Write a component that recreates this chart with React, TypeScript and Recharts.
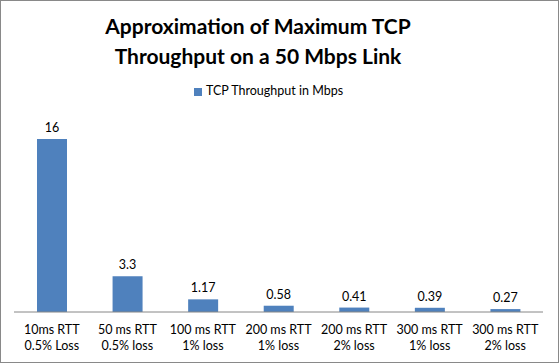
import { Bar, BarChart, XAxis, YAxis, Legend, LabelList } from "recharts";

const rttLabels = ["10ms RTT", "50 ms RTT", "100 ms RTT", "200 ms RTT", "200 ms RTT", "300 ms RTT", "300 ms RTT"];
const lossLabels = ["0.5% Loss", "0.5% loss", "1% loss", "1% loss", "2% loss", "1% loss", "2% loss"];
const throughput = [16, 3.3, 1.17, 0.58, 0.41, 0.39, 0.27];

const data = rttLabels.map((rtt, i) => ({
  name: i,
  rtt,
  loss: lossLabels[i],
  "TCP Throughput in Mbps": throughput[i],
}));

const font = "Lato, 'Liberation Sans', sans-serif";

const TwoLineTick = (props: any) => {
  const { x, y, payload } = props;
  const d = data[payload.value];
  return (
    <text x={x} y={y} textAnchor="middle" fontSize={12.5} fill="#000" fontFamily={font}>
      <tspan x={x} dy={14}>{d.rtt}</tspan>
      <tspan x={x} dy={16}>{d.loss}</tspan>
    </text>
  );
};

const App = () => {
  return (
    <div
      style={{
        position: "fixed",
        top: 0,
        left: 0,
        width: 559,
        height: 363,
        background: "#fff",
        fontFamily: font,
      }}
    >
      <div
        style={{
          position: "absolute",
          top: 0,
          left: 0,
          width: 557,
          height: 361,
          border: "1px solid #898989",
          pointerEvents: "none",
          zIndex: 2,
        }}
      />
      <div
        style={{
          position: "absolute",
          top: 11,
          left: 0,
          width: 516,
          textAlign: "center",
          fontSize: 21,
          fontWeight: 700,
          lineHeight: "30px",
          color: "#000",
        }}
      >
        Approximation of Maximum TCP
        <br />
        Throughput on a 50 Mbps Link
      </div>
      <BarChart
        width={559}
        height={363}
        data={data}
        margin={{ top: 139, right: 16, bottom: 0, left: 14 }}
      >
        <XAxis
          dataKey="name"
          height={51}
          tickLine={false}
          axisLine={{ stroke: "#868686" }}
          tick={<TwoLineTick />}
          interval={0}
        />
        <YAxis hide domain={[0, 16]} />
        <Legend
          layout="horizontal"
          verticalAlign="middle"
          align="center"
          iconType="square"
          iconSize={8}
          wrapperStyle={{ top: 83, left: 10, width: 527, fontSize: 12.5 }}
          formatter={(value) => <span style={{ color: "#000" }}>{value}</span>}
        />
        <Bar
          dataKey="TCP Throughput in Mbps"
          fill="#4F81BD"
          barSize={30}
          isAnimationActive={false}
        >
          <LabelList
            dataKey="TCP Throughput in Mbps"
            position="top"
            offset={7}
            fontSize={12.5}
            fill="#000"
            fontFamily={font}
          />
        </Bar>
      </BarChart>
    </div>
  );
};

export default App;
